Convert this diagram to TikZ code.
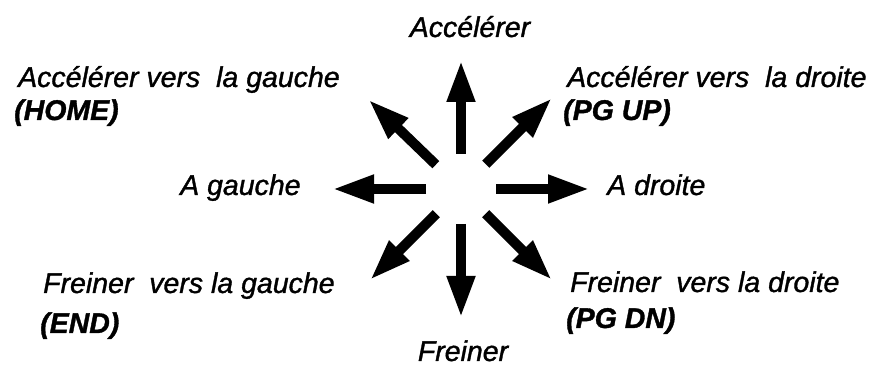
\documentclass[tikz,border=0pt]{standalone}
\usepackage{fontspec}
\setmainfont{Liberation Sans}[FakeBold=1.2]
\usetikzlibrary{arrows.meta, calc}

\tikzset{
  bigarrow/.style={line width=10pt, -{Triangle[length=42pt 0 0, width=26pt 0 0]}},
  label/.style={inner sep=0pt, font=\fontsize{28.5}{34}\selectfont\itshape, align=left}
}

\begin{document}
\begin{tikzpicture}[x=1pt, y=1pt]
\useasboundingbox (0,0) rectangle (887,366);
% centre of the star
\coordinate (c) at (461,177);

% direction labels
\node[label, anchor=base] (up) at (470,329) {Acc\'el\'erer};
\node[label, anchor=base] (down) at (463,5) {Freiner};
\node[label, anchor=base west] (left) at (180,171) {A gauche};
\node[label, anchor=base west] (right) at (607,171) {A droite};
\node[label, anchor=base west] (upleft) at (18,279) {Acc\'el\'erer vers\ \ la gauche};
\node[label, anchor=base west] (upleftkey) at (14,246) {\bfseries (HOME)};
\node[label, anchor=base west] (upright) at (567,279) {Acc\'el\'erer vers\ \ la droite};
\node[label, anchor=base west] (uprightkey) at (563,246) {\bfseries (PG UP)};
\node[label, anchor=base west] (downleft) at (43,73) {Freiner\ \ vers la gauche};
\node[label, anchor=base west] (downleftkey) at (40,33) {\bfseries (END)};
\node[label, anchor=base west] (downright) at (570,74) {Freiner\ \ vers la droite};
\node[label, anchor=base west] (downrightkey) at (566,38) {\bfseries (PG DN)};

% eight arrows around the centre
\foreach \dir/\ang in {e/0, ne/45, n/90, nw/136, w/180, sw/225, s/270, se/315} {
    \coordinate (s\dir) at ($(c)+(\ang:35)$);
    \coordinate (t\dir) at ($(c)+(\ang:129)$);
    \draw[bigarrow] (s\dir) -- (t\dir);
}
\end{tikzpicture}
\end{document}
